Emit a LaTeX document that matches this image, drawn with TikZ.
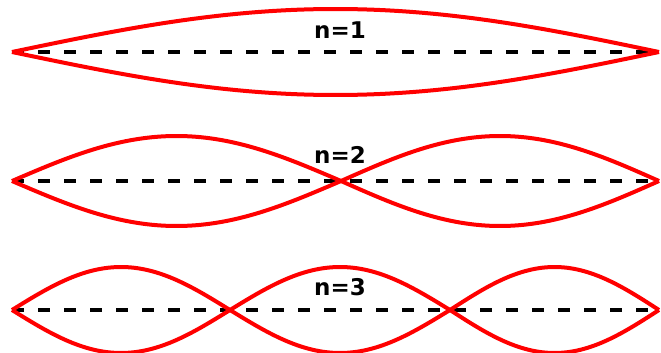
\documentclass[tikz,border=0pt]{standalone}
\usepackage{fontspec}
\setsansfont{DejaVu Sans}
\begin{document}
\begin{tikzpicture}[x=1pt,y=-1pt,
  wave/.style={red,line width=4pt,line join=round},
  axisline/.style={black,line width=3.4pt,dash pattern=on 12pt off 14pt},
  lbl/.style={font=\sffamily\bfseries\fontsize{23}{25}\selectfont,inner sep=0pt}]
\useasboundingbox (0,0) rectangle (661,353);
% dashed axes
\foreach \yc in {52,181,310}{\draw[axisline] (12,\yc) -- (659,\yc);}
% lobes: start / end / centre line / amplitude
\foreach \xa/\xb/\yc/\a in {12/659/52/43, 12/341/181/45, 341/659/181/45, 12/230/310/43, 230/450/310/43, 450/659/310/43}{
  \draw[wave,samples=60,domain=\xa:\xb,smooth] plot (\x,{\yc-\a*sin(180/(\xb-\xa)*(\x-\xa))});
  \draw[wave,samples=60,domain=\xa:\xb,smooth] plot (\x,{\yc+\a*sin(180/(\xb-\xa)*(\x-\xa))});
}
\node[lbl] (label1) at (340,30) {n=1};
\node[lbl] (label2) at (340,155) {n=2};
\node[lbl] (label3) at (340,287) {n=3};
\end{tikzpicture}
\end{document}
